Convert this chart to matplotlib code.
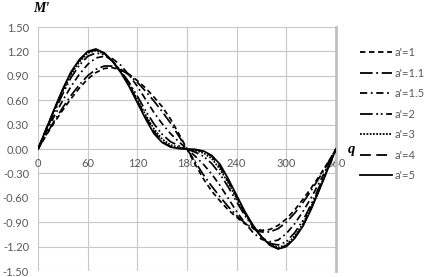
import matplotlib
matplotlib.use("Agg")
import matplotlib.pyplot as plt

q = [0, 10, 20, 30, 40, 50, 60, 70, 80, 90, 100, 110, 120, 130, 140, 150, 160, 170, 180,
     190, 200, 210, 220, 230, 240, 250, 260, 270, 280, 290, 300, 310, 320, 330, 340, 350, 360]

m_a1 = [0, 0.17, 0.33, 0.48, 0.62, 0.75, 0.86, 0.94, 0.99, 1.00, 0.97, 0.92, 0.84, 0.75, 0.64, 0.52, 0.37, 0.19, 0,
        -0.19, -0.37, -0.52, -0.64, -0.75, -0.84, -0.92, -0.97, -1.00, -0.99, -0.94, -0.86, -0.75, -0.62, -0.48, -0.33, -0.17, 0]
m_a11 = [0, 0.18, 0.35, 0.51, 0.66, 0.79, 0.90, 0.98, 1.02, 1.02, 0.98, 0.91, 0.82, 0.71, 0.59, 0.46, 0.32, 0.16, 0,
         -0.16, -0.32, -0.46, -0.59, -0.71, -0.82, -0.91, -0.98, -1.02, -1.02, -0.98, -0.90, -0.79, -0.66, -0.51, -0.35, -0.18, 0]
m_a15 = [0, 0.21, 0.41, 0.60, 0.77, 0.92, 1.04, 1.12, 1.14, 1.11, 1.03, 0.91, 0.77, 0.61, 0.45, 0.31, 0.19, 0.09, 0,
         -0.09, -0.19, -0.31, -0.45, -0.61, -0.77, -0.91, -1.03, -1.11, -1.14, -1.12, -1.04, -0.92, -0.77, -0.60, -0.41, -0.21, 0]
m_a2 = [0, 0.23, 0.46, 0.68, 0.88, 1.03, 1.14, 1.18, 1.16, 1.08, 0.96, 0.82, 0.65, 0.47, 0.31, 0.18, 0.09, 0.04, 0,
        -0.04, -0.09, -0.18, -0.31, -0.47, -0.65, -0.82, -0.96, -1.08, -1.16, -1.18, -1.14, -1.03, -0.88, -0.68, -0.46, -0.23, 0]
m_a3 = [0, 0.24, 0.48, 0.71, 0.92, 1.07, 1.18, 1.21, 1.17, 1.08, 0.95, 0.80, 0.61, 0.42, 0.25, 0.12, 0.05, 0.02, 0,
        -0.02, -0.05, -0.12, -0.25, -0.42, -0.61, -0.80, -0.95, -1.08, -1.17, -1.21, -1.18, -1.07, -0.92, -0.71, -0.48, -0.24, 0]
m_a4 = [0, 0.25, 0.49, 0.73, 0.94, 1.09, 1.19, 1.22, 1.18, 1.08, 0.95, 0.79, 0.59, 0.40, 0.22, 0.09, 0.03, 0.01, 0,
        -0.01, -0.03, -0.09, -0.22, -0.40, -0.59, -0.79, -0.95, -1.08, -1.18, -1.22, -1.19, -1.09, -0.94, -0.73, -0.49, -0.25, 0]
m_a5 = [0, 0.25, 0.50, 0.74, 0.95, 1.10, 1.20, 1.23, 1.18, 1.08, 0.94, 0.77, 0.57, 0.37, 0.19, 0.08, 0.025, 0.005, 0,
        -0.005, -0.025, -0.08, -0.19, -0.37, -0.57, -0.77, -0.94, -1.08, -1.18, -1.23, -1.20, -1.10, -0.95, -0.74, -0.50, -0.25, 0]

series_labels = ["a'=1", "a'=1.1", "a'=1.5", "a'=2", "a'=3", "a'=4", "a'=5"]
series_values = [m_a1, m_a11, m_a15, m_a2, m_a3, m_a4, m_a5]
dash_styles = [(0, (3, 2)), (0, (7, 2, 1, 2)), (0, (4, 2, 1, 2)), (0, (7, 2, 1, 1.5, 1, 2)),
               (0, (1, 0.8)), (0, (6, 3)), '-']

xticks = [0, 60, 120, 180, 240, 300, 360]
yticks = [-1.5, -1.2, -0.9, -0.6, -0.3, 0.0, 0.3, 0.6, 0.9, 1.2, 1.5]

fig = plt.figure(figsize=(4.32, 2.77), dpi=100)
ax = fig.add_axes([38 / 432, 6 / 277, 298 / 432, 244 / 277])

for vals, lab, ls in zip(series_values, series_labels, dash_styles):
    ax.plot(q, vals, color='black', lw=1.25, linestyle=ls, label=lab, zorder=3)

ax.set_xlim(0, 360)
ax.set_ylim(-1.5, 1.5)
ax.set_xticks(xticks)
ax.set_yticks(yticks)
ax.set_xticklabels([str(t) for t in xticks])
ax.set_yticklabels(["%.2f" % t for t in yticks])
ax.grid(True, color='#c8c8c8', lw=0.8, zorder=0)
ax.set_axisbelow(True)
for s in ['left', 'top', 'bottom']:
    ax.spines[s].set_visible(False)
ax.spines['right'].set_color('#c0c0c0')
ax.spines['right'].set_linewidth(2)
ax.spines['bottom'].set_position(('data', 0))

font = 'Lato'
ax.tick_params(axis='both', length=0, labelcolor='#595959', labelsize=8)
ax.tick_params(axis='y', pad=6.5)
ax.tick_params(axis='x', pad=6.5)
for lbl in ax.get_xticklabels() + ax.get_yticklabels():
    lbl.set_fontfamily(font)

fig.text(33 / 432, 1 - 8 / 277, "M'", family='Liberation Serif', weight='bold', style='italic',
         fontsize=10, va='center', ha='left')
fig.text(351 / 432, 1 - 150 / 277, "q", family='Liberation Serif', weight='bold', style='italic',
         fontsize=10.5, va='center', ha='center')

leg = ax.legend(loc='upper left', bbox_to_anchor=(360 / 432, 1 - 47 / 277), bbox_transform=fig.transFigure,
                frameon=False, handlelength=2.9, handletextpad=0.2, labelspacing=0.86,
                prop={'family': font, 'size': 8}, borderaxespad=0, borderpad=0)
for t in leg.get_texts():
    t.set_color('#595959')
for h in leg.get_lines():
    h.set_linewidth(1.3)

fig.savefig('out.png', dpi=100)
